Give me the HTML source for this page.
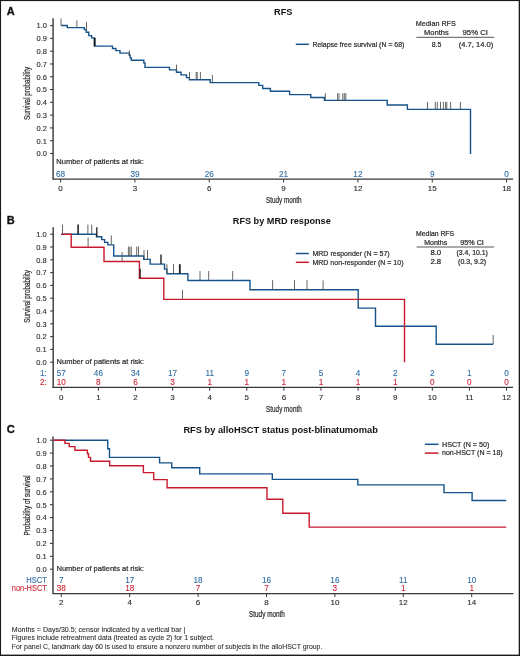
<!DOCTYPE html>
<html><head><meta charset="utf-8"><title>RFS Kaplan-Meier curves</title>
<style>
html,body{margin:0;padding:0;background:#fff;}
body{width:520px;height:656px;overflow:hidden;font-family:"Liberation Sans", sans-serif;}
svg{display:block;will-change:transform;}
svg text{font-family:"Liberation Sans", sans-serif;}
</style></head>
<body>
<svg width="520" height="656" viewBox="0 0 520 656">
<rect x="0" y="0" width="520" height="656" fill="#fff"/>
<text x="6.8" y="14.8" font-size="11" text-anchor="start" fill="#111" font-weight="bold" stroke="#111" stroke-width="0.3">A</text>
<text x="274.0" y="14.5" font-size="9.5" text-anchor="start" fill="#111" font-weight="bold" textLength="18.4" lengthAdjust="spacingAndGlyphs">RFS</text>
<line x1="295.8" y1="44.3" x2="308.9" y2="44.3" stroke="#14548a" stroke-width="1.5"/>
<text x="312.4" y="46.6" font-size="8" text-anchor="start" fill="#2a2a2a" stroke="#2a2a2a" stroke-width="0.22" textLength="92" lengthAdjust="spacingAndGlyphs">Relapse free survival (N = 68)</text>
<text x="415.8" y="25.8" font-size="8" text-anchor="start" fill="#2a2a2a" stroke="#2a2a2a" stroke-width="0.22" textLength="40" lengthAdjust="spacingAndGlyphs">Median RFS</text>
<text x="424.0" y="35.0" font-size="8" text-anchor="start" fill="#2a2a2a" stroke="#2a2a2a" stroke-width="0.22" textLength="24.7" lengthAdjust="spacingAndGlyphs">Months</text>
<text x="462.5" y="35.0" font-size="8" text-anchor="start" fill="#2a2a2a" stroke="#2a2a2a" stroke-width="0.22" textLength="25.5" lengthAdjust="spacingAndGlyphs">95% CI</text>
<line x1="416.3" y1="37.3" x2="494.2" y2="37.3" stroke="#444" stroke-width="0.9"/>
<text x="431.7" y="46.5" font-size="8" text-anchor="start" fill="#2a2a2a" stroke="#2a2a2a" stroke-width="0.22" textLength="9.6" lengthAdjust="spacingAndGlyphs">8.5</text>
<text x="458.7" y="46.5" font-size="8" text-anchor="start" fill="#2a2a2a" stroke="#2a2a2a" stroke-width="0.22" textLength="34.6" lengthAdjust="spacingAndGlyphs">(4.7, 14.0)</text>
<line x1="53.1" y1="18.2" x2="53.1" y2="179" stroke="#383838" stroke-width="1.4"/>
<line x1="50.1" y1="25.6" x2="53.1" y2="25.6" stroke="#383838" stroke-width="1.1"/>
<text x="47" y="28.450000000000003" font-size="8.0" text-anchor="end" fill="#2a2a2a" stroke="#2a2a2a" stroke-width="0.12" textLength="10.4" lengthAdjust="spacingAndGlyphs">1.0</text>
<line x1="50.1" y1="38.39" x2="53.1" y2="38.39" stroke="#383838" stroke-width="1.1"/>
<text x="47" y="41.24" font-size="8.0" text-anchor="end" fill="#2a2a2a" stroke="#2a2a2a" stroke-width="0.12" textLength="10.4" lengthAdjust="spacingAndGlyphs">0.9</text>
<line x1="50.1" y1="51.18" x2="53.1" y2="51.18" stroke="#383838" stroke-width="1.1"/>
<text x="47" y="54.03" font-size="8.0" text-anchor="end" fill="#2a2a2a" stroke="#2a2a2a" stroke-width="0.12" textLength="10.4" lengthAdjust="spacingAndGlyphs">0.8</text>
<line x1="50.1" y1="63.97" x2="53.1" y2="63.97" stroke="#383838" stroke-width="1.1"/>
<text x="47" y="66.82" font-size="8.0" text-anchor="end" fill="#2a2a2a" stroke="#2a2a2a" stroke-width="0.12" textLength="10.4" lengthAdjust="spacingAndGlyphs">0.7</text>
<line x1="50.1" y1="76.75999999999999" x2="53.1" y2="76.75999999999999" stroke="#383838" stroke-width="1.1"/>
<text x="47" y="79.60999999999999" font-size="8.0" text-anchor="end" fill="#2a2a2a" stroke="#2a2a2a" stroke-width="0.12" textLength="10.4" lengthAdjust="spacingAndGlyphs">0.6</text>
<line x1="50.1" y1="89.55" x2="53.1" y2="89.55" stroke="#383838" stroke-width="1.1"/>
<text x="47" y="92.39999999999999" font-size="8.0" text-anchor="end" fill="#2a2a2a" stroke="#2a2a2a" stroke-width="0.12" textLength="10.4" lengthAdjust="spacingAndGlyphs">0.5</text>
<line x1="50.1" y1="102.34" x2="53.1" y2="102.34" stroke="#383838" stroke-width="1.1"/>
<text x="47" y="105.19" font-size="8.0" text-anchor="end" fill="#2a2a2a" stroke="#2a2a2a" stroke-width="0.12" textLength="10.4" lengthAdjust="spacingAndGlyphs">0.4</text>
<line x1="50.1" y1="115.13" x2="53.1" y2="115.13" stroke="#383838" stroke-width="1.1"/>
<text x="47" y="117.97999999999999" font-size="8.0" text-anchor="end" fill="#2a2a2a" stroke="#2a2a2a" stroke-width="0.12" textLength="10.4" lengthAdjust="spacingAndGlyphs">0.3</text>
<line x1="50.1" y1="127.91999999999999" x2="53.1" y2="127.91999999999999" stroke="#383838" stroke-width="1.1"/>
<text x="47" y="130.76999999999998" font-size="8.0" text-anchor="end" fill="#2a2a2a" stroke="#2a2a2a" stroke-width="0.12" textLength="10.4" lengthAdjust="spacingAndGlyphs">0.2</text>
<line x1="50.1" y1="140.70999999999998" x2="53.1" y2="140.70999999999998" stroke="#383838" stroke-width="1.1"/>
<text x="47" y="143.55999999999997" font-size="8.0" text-anchor="end" fill="#2a2a2a" stroke="#2a2a2a" stroke-width="0.12" textLength="10.4" lengthAdjust="spacingAndGlyphs">0.1</text>
<line x1="50.1" y1="153.5" x2="53.1" y2="153.5" stroke="#383838" stroke-width="1.1"/>
<text x="47" y="156.35" font-size="8.0" text-anchor="end" fill="#2a2a2a" stroke="#2a2a2a" stroke-width="0.12" textLength="10.4" lengthAdjust="spacingAndGlyphs">0.0</text>
<text x="0" y="0" font-size="8.8" text-anchor="middle" fill="#2a2a2a" stroke="#2a2a2a" stroke-width="0.22" textLength="53.3" lengthAdjust="spacingAndGlyphs" transform="translate(29.9,93.4) rotate(-90)">Survival probability</text>
<line x1="52.4" y1="179.2" x2="513.1" y2="179.2" stroke="#383838" stroke-width="1.3"/>
<line x1="60.6" y1="179.2" x2="60.6" y2="182.5" stroke="#383838" stroke-width="1.0"/>
<text x="60.6" y="190.6" font-size="8.0" text-anchor="middle" fill="#2a2a2a" stroke="#2a2a2a" stroke-width="0.12">0</text>
<line x1="134.93" y1="179.2" x2="134.93" y2="182.5" stroke="#383838" stroke-width="1.0"/>
<text x="134.93" y="190.6" font-size="8.0" text-anchor="middle" fill="#2a2a2a" stroke="#2a2a2a" stroke-width="0.12">3</text>
<line x1="209.26" y1="179.2" x2="209.26" y2="182.5" stroke="#383838" stroke-width="1.0"/>
<text x="209.26" y="190.6" font-size="8.0" text-anchor="middle" fill="#2a2a2a" stroke="#2a2a2a" stroke-width="0.12">6</text>
<line x1="283.59000000000003" y1="179.2" x2="283.59000000000003" y2="182.5" stroke="#383838" stroke-width="1.0"/>
<text x="283.59000000000003" y="190.6" font-size="8.0" text-anchor="middle" fill="#2a2a2a" stroke="#2a2a2a" stroke-width="0.12">9</text>
<line x1="357.92" y1="179.2" x2="357.92" y2="182.5" stroke="#383838" stroke-width="1.0"/>
<text x="357.92" y="190.6" font-size="8.0" text-anchor="middle" fill="#2a2a2a" stroke="#2a2a2a" stroke-width="0.12">12</text>
<line x1="432.25" y1="179.2" x2="432.25" y2="182.5" stroke="#383838" stroke-width="1.0"/>
<text x="432.25" y="190.6" font-size="8.0" text-anchor="middle" fill="#2a2a2a" stroke="#2a2a2a" stroke-width="0.12">15</text>
<line x1="506.58000000000004" y1="179.2" x2="506.58000000000004" y2="182.5" stroke="#383838" stroke-width="1.0"/>
<text x="506.58000000000004" y="190.6" font-size="8.0" text-anchor="middle" fill="#2a2a2a" stroke="#2a2a2a" stroke-width="0.12">18</text>
<text x="266.0" y="203.0" font-size="8.8" text-anchor="start" fill="#2a2a2a" stroke="#2a2a2a" stroke-width="0.22" textLength="35.6" lengthAdjust="spacingAndGlyphs">Study month</text>
<text x="56.3" y="164.0" font-size="8" text-anchor="start" fill="#2a2a2a" stroke="#2a2a2a" stroke-width="0.22" textLength="87.6" lengthAdjust="spacingAndGlyphs">Number of patients at risk:</text>
<text x="60.6" y="176.6" font-size="8.2" text-anchor="middle" fill="#2f6ba3" stroke="#2f6ba3" stroke-width="0.1">68</text>
<text x="134.93" y="176.6" font-size="8.2" text-anchor="middle" fill="#2f6ba3" stroke="#2f6ba3" stroke-width="0.1">39</text>
<text x="209.26" y="176.6" font-size="8.2" text-anchor="middle" fill="#2f6ba3" stroke="#2f6ba3" stroke-width="0.1">26</text>
<text x="283.59000000000003" y="176.6" font-size="8.2" text-anchor="middle" fill="#2f6ba3" stroke="#2f6ba3" stroke-width="0.1">21</text>
<text x="357.92" y="176.6" font-size="8.2" text-anchor="middle" fill="#2f6ba3" stroke="#2f6ba3" stroke-width="0.1">12</text>
<text x="432.25" y="176.6" font-size="8.2" text-anchor="middle" fill="#2f6ba3" stroke="#2f6ba3" stroke-width="0.1">9</text>
<text x="506.58000000000004" y="176.6" font-size="8.2" text-anchor="middle" fill="#2f6ba3" stroke="#2f6ba3" stroke-width="0.1">0</text>
<path d="M61.0,25.5 L67.3,25.5 L67.3,27.6 L84.3,27.6 L84.3,29.6 L86.3,29.6 L86.3,32.2 L88.8,32.2 L88.8,35.6 L91.6,35.6 L91.6,37.9 L94.6,37.9 L94.6,46.1 L112.5,46.1 L112.5,48.5 L115.9,48.5 L115.9,50.6 L120.0,50.6 L120.0,53.1 L129.3,53.1 L129.3,55.3 L130.2,55.3 L130.2,57.9 L131.3,57.9 L131.3,60.2 L143.8,60.2 L143.8,62.9 L145.0,62.9 L145.0,67.4 L169.5,67.4 L169.5,69.9 L176.5,69.9 L176.5,72.3 L181.0,72.3 L181.0,74.9 L186.5,74.9 L186.5,77.6 L189.4,77.6 L189.4,79.8 L210.2,79.8 L210.2,82.6 L258.8,82.6 L258.8,85.4 L262.7,85.4 L262.7,88.5 L270.4,88.5 L270.4,91.3 L289.6,91.3 L289.6,94.6 L310.8,94.6 L310.8,97.5 L324.4,97.5 L324.4,100.4 L387.2,100.4 L387.2,105.0 L407.4,105.0 L407.4,109.4 L470.5,109.4 L470.5,154.0" fill="none" stroke="#14548a" stroke-width="1.4" stroke-linejoin="miter" stroke-linecap="butt"/>
<line x1="61.0" y1="18.4" x2="61.0" y2="25.5" stroke="#555555" stroke-width="0.9"/>
<line x1="76.9" y1="20.3" x2="76.9" y2="27.6" stroke="#555555" stroke-width="0.9"/>
<line x1="86.5" y1="21.9" x2="86.5" y2="29.6" stroke="#555555" stroke-width="0.9"/>
<line x1="94.6" y1="38.0" x2="94.6" y2="46.1" stroke="#111" stroke-width="1.8"/>
<line x1="129.3" y1="50.2" x2="129.3" y2="55.3" stroke="#555555" stroke-width="0.9"/>
<line x1="176.5" y1="64.6" x2="176.5" y2="69.9" stroke="#555555" stroke-width="0.9"/>
<line x1="189.5" y1="72.0" x2="189.5" y2="79.8" stroke="#555555" stroke-width="0.9"/>
<line x1="196.2" y1="72.0" x2="196.2" y2="79.8" stroke="#555555" stroke-width="0.9"/>
<line x1="197.2" y1="72.0" x2="197.2" y2="79.8" stroke="#555555" stroke-width="0.9"/>
<line x1="200.4" y1="72.0" x2="200.4" y2="79.8" stroke="#555555" stroke-width="0.9"/>
<line x1="212.4" y1="74.9" x2="212.4" y2="82.6" stroke="#555555" stroke-width="0.9"/>
<line x1="325.3" y1="93.2" x2="325.3" y2="100.4" stroke="#555555" stroke-width="0.9"/>
<line x1="337.6" y1="93.2" x2="337.6" y2="100.4" stroke="#555555" stroke-width="0.9"/>
<line x1="339.0" y1="93.2" x2="339.0" y2="100.4" stroke="#555555" stroke-width="0.9"/>
<line x1="342.8" y1="93.2" x2="342.8" y2="100.4" stroke="#555555" stroke-width="0.9"/>
<line x1="344.3" y1="93.2" x2="344.3" y2="100.4" stroke="#555555" stroke-width="0.9"/>
<line x1="345.8" y1="93.2" x2="345.8" y2="100.4" stroke="#555555" stroke-width="0.9"/>
<line x1="427.5" y1="101.9" x2="427.5" y2="109.4" stroke="#555555" stroke-width="0.9"/>
<line x1="435.3" y1="101.9" x2="435.3" y2="109.4" stroke="#555555" stroke-width="0.9"/>
<line x1="437.3" y1="101.9" x2="437.3" y2="109.4" stroke="#555555" stroke-width="0.9"/>
<line x1="440.5" y1="101.9" x2="440.5" y2="109.4" stroke="#555555" stroke-width="0.9"/>
<line x1="443.4" y1="101.9" x2="443.4" y2="109.4" stroke="#555555" stroke-width="0.9"/>
<line x1="445.6" y1="101.9" x2="445.6" y2="109.4" stroke="#555555" stroke-width="0.9"/>
<line x1="446.8" y1="101.9" x2="446.8" y2="109.4" stroke="#555555" stroke-width="0.9"/>
<line x1="450.6" y1="101.9" x2="450.6" y2="109.4" stroke="#555555" stroke-width="0.9"/>
<line x1="460.4" y1="101.9" x2="460.4" y2="109.4" stroke="#555555" stroke-width="0.9"/>
<text x="6.8" y="223.8" font-size="11" text-anchor="start" fill="#111" font-weight="bold" stroke="#111" stroke-width="0.3">B</text>
<text x="232.8" y="224.2" font-size="9.5" text-anchor="start" fill="#111" font-weight="bold" textLength="98" lengthAdjust="spacingAndGlyphs">RFS by MRD response</text>
<line x1="295.8" y1="253.5" x2="308.9" y2="253.5" stroke="#14548a" stroke-width="1.5"/>
<line x1="295.8" y1="262.3" x2="308.9" y2="262.3" stroke="#c8192e" stroke-width="1.5"/>
<text x="312.4" y="256.1" font-size="8" text-anchor="start" fill="#2a2a2a" stroke="#2a2a2a" stroke-width="0.22" textLength="77.3" lengthAdjust="spacingAndGlyphs">MRD responder (N = 57)</text>
<text x="312.4" y="265.0" font-size="8" text-anchor="start" fill="#2a2a2a" stroke="#2a2a2a" stroke-width="0.22" textLength="91.1" lengthAdjust="spacingAndGlyphs">MRD non-responder (N = 10)</text>
<text x="416.1" y="235.7" font-size="7.0" text-anchor="start" fill="#2a2a2a" stroke="#2a2a2a" stroke-width="0.22" textLength="38" lengthAdjust="spacingAndGlyphs">Median RFS</text>
<text x="424.2" y="244.6" font-size="7.0" text-anchor="start" fill="#2a2a2a" stroke="#2a2a2a" stroke-width="0.22" textLength="23" lengthAdjust="spacingAndGlyphs">Months</text>
<text x="460.2" y="244.6" font-size="7.0" text-anchor="start" fill="#2a2a2a" stroke="#2a2a2a" stroke-width="0.22" textLength="23.7" lengthAdjust="spacingAndGlyphs">95% CI</text>
<line x1="416.6" y1="247.0" x2="494.0" y2="247.0" stroke="#444" stroke-width="0.9"/>
<text x="430.4" y="255.0" font-size="7.0" text-anchor="start" fill="#2a2a2a" stroke="#2a2a2a" stroke-width="0.22" textLength="10.8" lengthAdjust="spacingAndGlyphs">8.0</text>
<text x="456.4" y="255.0" font-size="7.0" text-anchor="start" fill="#2a2a2a" stroke="#2a2a2a" stroke-width="0.22" textLength="31.5" lengthAdjust="spacingAndGlyphs">(3.4, 10.1)</text>
<text x="430.4" y="264.0" font-size="7.0" text-anchor="start" fill="#2a2a2a" stroke="#2a2a2a" stroke-width="0.22" textLength="10.8" lengthAdjust="spacingAndGlyphs">2.8</text>
<text x="458.1" y="264.0" font-size="7.0" text-anchor="start" fill="#2a2a2a" stroke="#2a2a2a" stroke-width="0.22" textLength="28.1" lengthAdjust="spacingAndGlyphs">(0.3, 9.2)</text>
<line x1="53.2" y1="227.2" x2="53.2" y2="387.2" stroke="#383838" stroke-width="1.4"/>
<line x1="50.2" y1="234.2" x2="53.2" y2="234.2" stroke="#383838" stroke-width="1.1"/>
<text x="46.6" y="237.04999999999998" font-size="8.0" text-anchor="end" fill="#2a2a2a" stroke="#2a2a2a" stroke-width="0.12" textLength="10.4" lengthAdjust="spacingAndGlyphs">1.0</text>
<line x1="50.2" y1="247.0" x2="53.2" y2="247.0" stroke="#383838" stroke-width="1.1"/>
<text x="46.6" y="249.85" font-size="8.0" text-anchor="end" fill="#2a2a2a" stroke="#2a2a2a" stroke-width="0.12" textLength="10.4" lengthAdjust="spacingAndGlyphs">0.9</text>
<line x1="50.2" y1="259.8" x2="53.2" y2="259.8" stroke="#383838" stroke-width="1.1"/>
<text x="46.6" y="262.65000000000003" font-size="8.0" text-anchor="end" fill="#2a2a2a" stroke="#2a2a2a" stroke-width="0.12" textLength="10.4" lengthAdjust="spacingAndGlyphs">0.8</text>
<line x1="50.2" y1="272.6" x2="53.2" y2="272.6" stroke="#383838" stroke-width="1.1"/>
<text x="46.6" y="275.45000000000005" font-size="8.0" text-anchor="end" fill="#2a2a2a" stroke="#2a2a2a" stroke-width="0.12" textLength="10.4" lengthAdjust="spacingAndGlyphs">0.7</text>
<line x1="50.2" y1="285.4" x2="53.2" y2="285.4" stroke="#383838" stroke-width="1.1"/>
<text x="46.6" y="288.25" font-size="8.0" text-anchor="end" fill="#2a2a2a" stroke="#2a2a2a" stroke-width="0.12" textLength="10.4" lengthAdjust="spacingAndGlyphs">0.6</text>
<line x1="50.2" y1="298.2" x2="53.2" y2="298.2" stroke="#383838" stroke-width="1.1"/>
<text x="46.6" y="301.05" font-size="8.0" text-anchor="end" fill="#2a2a2a" stroke="#2a2a2a" stroke-width="0.12" textLength="10.4" lengthAdjust="spacingAndGlyphs">0.5</text>
<line x1="50.2" y1="311.0" x2="53.2" y2="311.0" stroke="#383838" stroke-width="1.1"/>
<text x="46.6" y="313.85" font-size="8.0" text-anchor="end" fill="#2a2a2a" stroke="#2a2a2a" stroke-width="0.12" textLength="10.4" lengthAdjust="spacingAndGlyphs">0.4</text>
<line x1="50.2" y1="323.8" x2="53.2" y2="323.8" stroke="#383838" stroke-width="1.1"/>
<text x="46.6" y="326.65000000000003" font-size="8.0" text-anchor="end" fill="#2a2a2a" stroke="#2a2a2a" stroke-width="0.12" textLength="10.4" lengthAdjust="spacingAndGlyphs">0.3</text>
<line x1="50.2" y1="336.6" x2="53.2" y2="336.6" stroke="#383838" stroke-width="1.1"/>
<text x="46.6" y="339.45000000000005" font-size="8.0" text-anchor="end" fill="#2a2a2a" stroke="#2a2a2a" stroke-width="0.12" textLength="10.4" lengthAdjust="spacingAndGlyphs">0.2</text>
<line x1="50.2" y1="349.4" x2="53.2" y2="349.4" stroke="#383838" stroke-width="1.1"/>
<text x="46.6" y="352.25" font-size="8.0" text-anchor="end" fill="#2a2a2a" stroke="#2a2a2a" stroke-width="0.12" textLength="10.4" lengthAdjust="spacingAndGlyphs">0.1</text>
<line x1="50.2" y1="362.2" x2="53.2" y2="362.2" stroke="#383838" stroke-width="1.1"/>
<text x="46.6" y="365.05" font-size="8.0" text-anchor="end" fill="#2a2a2a" stroke="#2a2a2a" stroke-width="0.12" textLength="10.4" lengthAdjust="spacingAndGlyphs">0.0</text>
<text x="0" y="0" font-size="8.8" text-anchor="middle" fill="#2a2a2a" stroke="#2a2a2a" stroke-width="0.22" textLength="52.8" lengthAdjust="spacingAndGlyphs" transform="translate(30.4,296.4) rotate(-90)">Survival probability</text>
<line x1="52.3" y1="387.4" x2="513.1" y2="387.4" stroke="#383838" stroke-width="1.3"/>
<line x1="61.3" y1="387.4" x2="61.3" y2="390.7" stroke="#383838" stroke-width="1.0"/>
<text x="61.3" y="399.6" font-size="8.0" text-anchor="middle" fill="#2a2a2a" stroke="#2a2a2a" stroke-width="0.12">0</text>
<line x1="98.4" y1="387.4" x2="98.4" y2="390.7" stroke="#383838" stroke-width="1.0"/>
<text x="98.4" y="399.6" font-size="8.0" text-anchor="middle" fill="#2a2a2a" stroke="#2a2a2a" stroke-width="0.12">1</text>
<line x1="135.5" y1="387.4" x2="135.5" y2="390.7" stroke="#383838" stroke-width="1.0"/>
<text x="135.5" y="399.6" font-size="8.0" text-anchor="middle" fill="#2a2a2a" stroke="#2a2a2a" stroke-width="0.12">2</text>
<line x1="172.60000000000002" y1="387.4" x2="172.60000000000002" y2="390.7" stroke="#383838" stroke-width="1.0"/>
<text x="172.60000000000002" y="399.6" font-size="8.0" text-anchor="middle" fill="#2a2a2a" stroke="#2a2a2a" stroke-width="0.12">3</text>
<line x1="209.7" y1="387.4" x2="209.7" y2="390.7" stroke="#383838" stroke-width="1.0"/>
<text x="209.7" y="399.6" font-size="8.0" text-anchor="middle" fill="#2a2a2a" stroke="#2a2a2a" stroke-width="0.12">4</text>
<line x1="246.8" y1="387.4" x2="246.8" y2="390.7" stroke="#383838" stroke-width="1.0"/>
<text x="246.8" y="399.6" font-size="8.0" text-anchor="middle" fill="#2a2a2a" stroke="#2a2a2a" stroke-width="0.12">5</text>
<line x1="283.90000000000003" y1="387.4" x2="283.90000000000003" y2="390.7" stroke="#383838" stroke-width="1.0"/>
<text x="283.90000000000003" y="399.6" font-size="8.0" text-anchor="middle" fill="#2a2a2a" stroke="#2a2a2a" stroke-width="0.12">6</text>
<line x1="321.0" y1="387.4" x2="321.0" y2="390.7" stroke="#383838" stroke-width="1.0"/>
<text x="321.0" y="399.6" font-size="8.0" text-anchor="middle" fill="#2a2a2a" stroke="#2a2a2a" stroke-width="0.12">7</text>
<line x1="358.1" y1="387.4" x2="358.1" y2="390.7" stroke="#383838" stroke-width="1.0"/>
<text x="358.1" y="399.6" font-size="8.0" text-anchor="middle" fill="#2a2a2a" stroke="#2a2a2a" stroke-width="0.12">8</text>
<line x1="395.20000000000005" y1="387.4" x2="395.20000000000005" y2="390.7" stroke="#383838" stroke-width="1.0"/>
<text x="395.20000000000005" y="399.6" font-size="8.0" text-anchor="middle" fill="#2a2a2a" stroke="#2a2a2a" stroke-width="0.12">9</text>
<line x1="432.3" y1="387.4" x2="432.3" y2="390.7" stroke="#383838" stroke-width="1.0"/>
<text x="432.3" y="399.6" font-size="8.0" text-anchor="middle" fill="#2a2a2a" stroke="#2a2a2a" stroke-width="0.12">10</text>
<line x1="469.40000000000003" y1="387.4" x2="469.40000000000003" y2="390.7" stroke="#383838" stroke-width="1.0"/>
<text x="469.40000000000003" y="399.6" font-size="8.0" text-anchor="middle" fill="#2a2a2a" stroke="#2a2a2a" stroke-width="0.12">11</text>
<line x1="506.50000000000006" y1="387.4" x2="506.50000000000006" y2="390.7" stroke="#383838" stroke-width="1.0"/>
<text x="506.50000000000006" y="399.6" font-size="8.0" text-anchor="middle" fill="#2a2a2a" stroke="#2a2a2a" stroke-width="0.12">12</text>
<text x="266.1" y="411.5" font-size="8.8" text-anchor="start" fill="#2a2a2a" stroke="#2a2a2a" stroke-width="0.22" textLength="35.6" lengthAdjust="spacingAndGlyphs">Study month</text>
<text x="56.6" y="363.6" font-size="8" text-anchor="start" fill="#2a2a2a" stroke="#2a2a2a" stroke-width="0.22" textLength="87.6" lengthAdjust="spacingAndGlyphs">Number of patients at risk:</text>
<text x="46.9" y="376.0" font-size="8.2" text-anchor="end" fill="#2f6ba3" stroke="#2f6ba3" stroke-width="0.1">1:</text>
<text x="46.9" y="385.4" font-size="8.2" text-anchor="end" fill="#cc2233" stroke="#cc2233" stroke-width="0.1">2:</text>
<text x="61.3" y="376.0" font-size="8.2" text-anchor="middle" fill="#2f6ba3" stroke="#2f6ba3" stroke-width="0.1">57</text>
<text x="98.4" y="376.0" font-size="8.2" text-anchor="middle" fill="#2f6ba3" stroke="#2f6ba3" stroke-width="0.1">46</text>
<text x="135.5" y="376.0" font-size="8.2" text-anchor="middle" fill="#2f6ba3" stroke="#2f6ba3" stroke-width="0.1">34</text>
<text x="172.60000000000002" y="376.0" font-size="8.2" text-anchor="middle" fill="#2f6ba3" stroke="#2f6ba3" stroke-width="0.1">17</text>
<text x="209.7" y="376.0" font-size="8.2" text-anchor="middle" fill="#2f6ba3" stroke="#2f6ba3" stroke-width="0.1">11</text>
<text x="246.8" y="376.0" font-size="8.2" text-anchor="middle" fill="#2f6ba3" stroke="#2f6ba3" stroke-width="0.1">9</text>
<text x="283.90000000000003" y="376.0" font-size="8.2" text-anchor="middle" fill="#2f6ba3" stroke="#2f6ba3" stroke-width="0.1">7</text>
<text x="321.0" y="376.0" font-size="8.2" text-anchor="middle" fill="#2f6ba3" stroke="#2f6ba3" stroke-width="0.1">5</text>
<text x="358.1" y="376.0" font-size="8.2" text-anchor="middle" fill="#2f6ba3" stroke="#2f6ba3" stroke-width="0.1">4</text>
<text x="395.20000000000005" y="376.0" font-size="8.2" text-anchor="middle" fill="#2f6ba3" stroke="#2f6ba3" stroke-width="0.1">2</text>
<text x="432.3" y="376.0" font-size="8.2" text-anchor="middle" fill="#2f6ba3" stroke="#2f6ba3" stroke-width="0.1">2</text>
<text x="469.40000000000003" y="376.0" font-size="8.2" text-anchor="middle" fill="#2f6ba3" stroke="#2f6ba3" stroke-width="0.1">1</text>
<text x="506.50000000000006" y="376.0" font-size="8.2" text-anchor="middle" fill="#2f6ba3" stroke="#2f6ba3" stroke-width="0.1">0</text>
<text x="61.3" y="385.4" font-size="8.2" text-anchor="middle" fill="#cc2233" stroke="#cc2233" stroke-width="0.1">10</text>
<text x="98.4" y="385.4" font-size="8.2" text-anchor="middle" fill="#cc2233" stroke="#cc2233" stroke-width="0.1">8</text>
<text x="135.5" y="385.4" font-size="8.2" text-anchor="middle" fill="#cc2233" stroke="#cc2233" stroke-width="0.1">6</text>
<text x="172.60000000000002" y="385.4" font-size="8.2" text-anchor="middle" fill="#cc2233" stroke="#cc2233" stroke-width="0.1">3</text>
<text x="209.7" y="385.4" font-size="8.2" text-anchor="middle" fill="#cc2233" stroke="#cc2233" stroke-width="0.1">1</text>
<text x="246.8" y="385.4" font-size="8.2" text-anchor="middle" fill="#cc2233" stroke="#cc2233" stroke-width="0.1">1</text>
<text x="283.90000000000003" y="385.4" font-size="8.2" text-anchor="middle" fill="#cc2233" stroke="#cc2233" stroke-width="0.1">1</text>
<text x="321.0" y="385.4" font-size="8.2" text-anchor="middle" fill="#cc2233" stroke="#cc2233" stroke-width="0.1">1</text>
<text x="358.1" y="385.4" font-size="8.2" text-anchor="middle" fill="#cc2233" stroke="#cc2233" stroke-width="0.1">1</text>
<text x="395.20000000000005" y="385.4" font-size="8.2" text-anchor="middle" fill="#cc2233" stroke="#cc2233" stroke-width="0.1">1</text>
<text x="432.3" y="385.4" font-size="8.2" text-anchor="middle" fill="#cc2233" stroke="#cc2233" stroke-width="0.1">0</text>
<text x="469.40000000000003" y="385.4" font-size="8.2" text-anchor="middle" fill="#cc2233" stroke="#cc2233" stroke-width="0.1">0</text>
<text x="506.50000000000006" y="385.4" font-size="8.2" text-anchor="middle" fill="#cc2233" stroke="#cc2233" stroke-width="0.1">0</text>
<path d="M61.3,234.2 L96.5,234.2 L96.5,236.7 L101.7,236.7 L101.7,239.6 L104.6,239.6 L104.6,242.4 L107.9,242.4 L107.9,244.9 L113.7,244.9 L113.7,256.0 L143.7,256.0 L143.7,259.4 L150.2,259.4 L150.2,264.1 L164.5,264.1 L164.5,269.1 L166.9,269.1 L166.9,273.8 L187.9,273.8 L187.9,280.5 L250.0,280.5 L250.0,289.8 L358.2,289.8 L358.2,308.1 L375.5,308.1 L375.5,326.2 L436.2,326.2 L436.2,344.3 L493.2,344.3" fill="none" stroke="#14548a" stroke-width="1.4" stroke-linejoin="miter" stroke-linecap="butt"/>
<path d="M61.3,234.2 L71.2,234.2 L71.2,247.2 L104.0,247.2 L104.0,261.5 L139.4,261.5 L139.4,278.2 L163.8,278.2 L163.8,299.4 L404.5,299.4 L404.5,362.2" fill="none" stroke="#c8192e" stroke-width="1.4" stroke-linejoin="miter" stroke-linecap="butt"/>
<line x1="62.5" y1="224.6" x2="62.5" y2="234.2" stroke="#555555" stroke-width="0.9"/>
<line x1="78.1" y1="224.6" x2="78.1" y2="234.2" stroke="#222" stroke-width="1.6"/>
<line x1="87.9" y1="224.6" x2="87.9" y2="234.2" stroke="#555555" stroke-width="0.9"/>
<line x1="91.7" y1="224.6" x2="91.7" y2="234.2" stroke="#555555" stroke-width="0.9"/>
<line x1="96.8" y1="227.2" x2="96.8" y2="236.7" stroke="#222" stroke-width="1.3"/>
<line x1="111.3" y1="235.4" x2="111.3" y2="244.9" stroke="#555555" stroke-width="0.9"/>
<line x1="88.1" y1="237.5" x2="88.1" y2="247.2" stroke="#555555" stroke-width="0.9"/>
<line x1="122.1" y1="252.0" x2="122.1" y2="261.5" stroke="#555555" stroke-width="0.9"/>
<line x1="128.4" y1="246.6" x2="128.4" y2="256.0" stroke="#555555" stroke-width="0.9"/>
<line x1="129.8" y1="246.6" x2="129.8" y2="256.0" stroke="#555555" stroke-width="0.9"/>
<line x1="131.3" y1="246.6" x2="131.3" y2="256.0" stroke="#555555" stroke-width="0.9"/>
<line x1="136.7" y1="246.6" x2="136.7" y2="256.0" stroke="#555555" stroke-width="0.9"/>
<line x1="138.5" y1="246.6" x2="138.5" y2="256.0" stroke="#555555" stroke-width="0.9"/>
<line x1="144.0" y1="250.0" x2="144.0" y2="259.4" stroke="#555555" stroke-width="0.9"/>
<line x1="147.5" y1="250.0" x2="147.5" y2="259.4" stroke="#555555" stroke-width="0.9"/>
<line x1="140.2" y1="268.8" x2="140.2" y2="278.2" stroke="#222" stroke-width="1.2"/>
<line x1="161.0" y1="254.4" x2="161.0" y2="264.1" stroke="#222" stroke-width="1.4"/>
<line x1="166.9" y1="264.2" x2="166.9" y2="273.8" stroke="#555555" stroke-width="0.9"/>
<line x1="173.5" y1="264.2" x2="173.5" y2="273.8" stroke="#555555" stroke-width="0.9"/>
<line x1="179.8" y1="264.2" x2="179.8" y2="273.8" stroke="#222" stroke-width="1.8"/>
<line x1="182.5" y1="289.8" x2="182.5" y2="299.4" stroke="#555555" stroke-width="0.9"/>
<line x1="200.0" y1="271.0" x2="200.0" y2="280.5" stroke="#555555" stroke-width="0.9"/>
<line x1="208.7" y1="271.0" x2="208.7" y2="280.5" stroke="#555555" stroke-width="0.9"/>
<line x1="232.7" y1="271.0" x2="232.7" y2="280.5" stroke="#555555" stroke-width="0.9"/>
<line x1="272.6" y1="280.2" x2="272.6" y2="289.8" stroke="#555555" stroke-width="0.9"/>
<line x1="294.5" y1="280.2" x2="294.5" y2="289.8" stroke="#555555" stroke-width="0.9"/>
<line x1="307.0" y1="280.2" x2="307.0" y2="289.8" stroke="#555555" stroke-width="0.9"/>
<line x1="323.1" y1="280.4" x2="323.1" y2="290.0" stroke="#555555" stroke-width="0.9"/>
<line x1="493.2" y1="335.0" x2="493.2" y2="344.3" stroke="#555555" stroke-width="0.9"/>
<text x="6.8" y="432.7" font-size="11.2" text-anchor="start" fill="#111" font-weight="bold" stroke="#111" stroke-width="0.3">C</text>
<text x="183.4" y="432.6" font-size="9.5" text-anchor="start" fill="#111" font-weight="bold" textLength="194.5" lengthAdjust="spacingAndGlyphs">RFS by alloHSCT status post-blinatumomab</text>
<line x1="424.9" y1="444.3" x2="438.5" y2="444.3" stroke="#14548a" stroke-width="1.5"/>
<line x1="424.9" y1="453.1" x2="438.5" y2="453.1" stroke="#c8192e" stroke-width="1.5"/>
<text x="442.0" y="446.6" font-size="8" text-anchor="start" fill="#2a2a2a" stroke="#2a2a2a" stroke-width="0.22" textLength="47.3" lengthAdjust="spacingAndGlyphs">HSCT (N = 50)</text>
<text x="442.0" y="455.4" font-size="8" text-anchor="start" fill="#2a2a2a" stroke="#2a2a2a" stroke-width="0.22" textLength="60.7" lengthAdjust="spacingAndGlyphs">non-HSCT (N = 18)</text>
<line x1="53.0" y1="436.5" x2="53.0" y2="593.4" stroke="#383838" stroke-width="1.4"/>
<line x1="50.0" y1="440.2" x2="53.0" y2="440.2" stroke="#383838" stroke-width="1.1"/>
<text x="46.6" y="443.05" font-size="8.0" text-anchor="end" fill="#2a2a2a" stroke="#2a2a2a" stroke-width="0.12" textLength="10.4" lengthAdjust="spacingAndGlyphs">1.0</text>
<line x1="50.0" y1="453.09999999999997" x2="53.0" y2="453.09999999999997" stroke="#383838" stroke-width="1.1"/>
<text x="46.6" y="455.95" font-size="8.0" text-anchor="end" fill="#2a2a2a" stroke="#2a2a2a" stroke-width="0.12" textLength="10.4" lengthAdjust="spacingAndGlyphs">0.9</text>
<line x1="50.0" y1="466.0" x2="53.0" y2="466.0" stroke="#383838" stroke-width="1.1"/>
<text x="46.6" y="468.85" font-size="8.0" text-anchor="end" fill="#2a2a2a" stroke="#2a2a2a" stroke-width="0.12" textLength="10.4" lengthAdjust="spacingAndGlyphs">0.8</text>
<line x1="50.0" y1="478.9" x2="53.0" y2="478.9" stroke="#383838" stroke-width="1.1"/>
<text x="46.6" y="481.75" font-size="8.0" text-anchor="end" fill="#2a2a2a" stroke="#2a2a2a" stroke-width="0.12" textLength="10.4" lengthAdjust="spacingAndGlyphs">0.7</text>
<line x1="50.0" y1="491.8" x2="53.0" y2="491.8" stroke="#383838" stroke-width="1.1"/>
<text x="46.6" y="494.65000000000003" font-size="8.0" text-anchor="end" fill="#2a2a2a" stroke="#2a2a2a" stroke-width="0.12" textLength="10.4" lengthAdjust="spacingAndGlyphs">0.6</text>
<line x1="50.0" y1="504.7" x2="53.0" y2="504.7" stroke="#383838" stroke-width="1.1"/>
<text x="46.6" y="507.55" font-size="8.0" text-anchor="end" fill="#2a2a2a" stroke="#2a2a2a" stroke-width="0.12" textLength="10.4" lengthAdjust="spacingAndGlyphs">0.5</text>
<line x1="50.0" y1="517.6" x2="53.0" y2="517.6" stroke="#383838" stroke-width="1.1"/>
<text x="46.6" y="520.45" font-size="8.0" text-anchor="end" fill="#2a2a2a" stroke="#2a2a2a" stroke-width="0.12" textLength="10.4" lengthAdjust="spacingAndGlyphs">0.4</text>
<line x1="50.0" y1="530.5" x2="53.0" y2="530.5" stroke="#383838" stroke-width="1.1"/>
<text x="46.6" y="533.35" font-size="8.0" text-anchor="end" fill="#2a2a2a" stroke="#2a2a2a" stroke-width="0.12" textLength="10.4" lengthAdjust="spacingAndGlyphs">0.3</text>
<line x1="50.0" y1="543.4" x2="53.0" y2="543.4" stroke="#383838" stroke-width="1.1"/>
<text x="46.6" y="546.25" font-size="8.0" text-anchor="end" fill="#2a2a2a" stroke="#2a2a2a" stroke-width="0.12" textLength="10.4" lengthAdjust="spacingAndGlyphs">0.2</text>
<line x1="50.0" y1="556.3" x2="53.0" y2="556.3" stroke="#383838" stroke-width="1.1"/>
<text x="46.6" y="559.15" font-size="8.0" text-anchor="end" fill="#2a2a2a" stroke="#2a2a2a" stroke-width="0.12" textLength="10.4" lengthAdjust="spacingAndGlyphs">0.1</text>
<line x1="50.0" y1="569.2" x2="53.0" y2="569.2" stroke="#383838" stroke-width="1.1"/>
<text x="46.6" y="572.0500000000001" font-size="8.0" text-anchor="end" fill="#2a2a2a" stroke="#2a2a2a" stroke-width="0.12" textLength="10.4" lengthAdjust="spacingAndGlyphs">0.0</text>
<text x="0" y="0" font-size="8.8" text-anchor="middle" fill="#2a2a2a" stroke="#2a2a2a" stroke-width="0.22" textLength="60.3" lengthAdjust="spacingAndGlyphs" transform="translate(30.2,505.4) rotate(-90)">Probability of survival</text>
<line x1="52.5" y1="593.7" x2="513.5" y2="593.7" stroke="#383838" stroke-width="1.3"/>
<line x1="61.3" y1="593.7" x2="61.3" y2="597.0" stroke="#383838" stroke-width="1.0"/>
<text x="61.3" y="604.8" font-size="8.0" text-anchor="middle" fill="#2a2a2a" stroke="#2a2a2a" stroke-width="0.12">2</text>
<line x1="129.7" y1="593.7" x2="129.7" y2="597.0" stroke="#383838" stroke-width="1.0"/>
<text x="129.7" y="604.8" font-size="8.0" text-anchor="middle" fill="#2a2a2a" stroke="#2a2a2a" stroke-width="0.12">4</text>
<line x1="198.10000000000002" y1="593.7" x2="198.10000000000002" y2="597.0" stroke="#383838" stroke-width="1.0"/>
<text x="198.10000000000002" y="604.8" font-size="8.0" text-anchor="middle" fill="#2a2a2a" stroke="#2a2a2a" stroke-width="0.12">6</text>
<line x1="266.5" y1="593.7" x2="266.5" y2="597.0" stroke="#383838" stroke-width="1.0"/>
<text x="266.5" y="604.8" font-size="8.0" text-anchor="middle" fill="#2a2a2a" stroke="#2a2a2a" stroke-width="0.12">8</text>
<line x1="334.90000000000003" y1="593.7" x2="334.90000000000003" y2="597.0" stroke="#383838" stroke-width="1.0"/>
<text x="334.90000000000003" y="604.8" font-size="8.0" text-anchor="middle" fill="#2a2a2a" stroke="#2a2a2a" stroke-width="0.12">10</text>
<line x1="403.3" y1="593.7" x2="403.3" y2="597.0" stroke="#383838" stroke-width="1.0"/>
<text x="403.3" y="604.8" font-size="8.0" text-anchor="middle" fill="#2a2a2a" stroke="#2a2a2a" stroke-width="0.12">12</text>
<line x1="471.70000000000005" y1="593.7" x2="471.70000000000005" y2="597.0" stroke="#383838" stroke-width="1.0"/>
<text x="471.70000000000005" y="604.8" font-size="8.0" text-anchor="middle" fill="#2a2a2a" stroke="#2a2a2a" stroke-width="0.12">14</text>
<text x="249.0" y="617.0" font-size="8.8" text-anchor="start" fill="#2a2a2a" stroke="#2a2a2a" stroke-width="0.22" textLength="35.9" lengthAdjust="spacingAndGlyphs">Study month</text>
<text x="56.5" y="571.2" font-size="8" text-anchor="start" fill="#2a2a2a" stroke="#2a2a2a" stroke-width="0.22" textLength="87.6" lengthAdjust="spacingAndGlyphs">Number of patients at risk:</text>
<text x="46.8" y="582.6" font-size="8.2" text-anchor="end" fill="#2f6ba3" stroke="#2f6ba3" stroke-width="0.1" textLength="20.6" lengthAdjust="spacingAndGlyphs">HSCT</text>
<text x="46.8" y="590.9" font-size="8.2" text-anchor="end" fill="#cc2233" stroke="#cc2233" stroke-width="0.1" textLength="35.0" lengthAdjust="spacingAndGlyphs">non-HSCT</text>
<text x="61.3" y="582.6" font-size="8.2" text-anchor="middle" fill="#2f6ba3" stroke="#2f6ba3" stroke-width="0.1">7</text>
<text x="129.7" y="582.6" font-size="8.2" text-anchor="middle" fill="#2f6ba3" stroke="#2f6ba3" stroke-width="0.1">17</text>
<text x="198.10000000000002" y="582.6" font-size="8.2" text-anchor="middle" fill="#2f6ba3" stroke="#2f6ba3" stroke-width="0.1">18</text>
<text x="266.5" y="582.6" font-size="8.2" text-anchor="middle" fill="#2f6ba3" stroke="#2f6ba3" stroke-width="0.1">16</text>
<text x="334.90000000000003" y="582.6" font-size="8.2" text-anchor="middle" fill="#2f6ba3" stroke="#2f6ba3" stroke-width="0.1">16</text>
<text x="403.3" y="582.6" font-size="8.2" text-anchor="middle" fill="#2f6ba3" stroke="#2f6ba3" stroke-width="0.1">11</text>
<text x="471.70000000000005" y="582.6" font-size="8.2" text-anchor="middle" fill="#2f6ba3" stroke="#2f6ba3" stroke-width="0.1">10</text>
<text x="61.3" y="590.9" font-size="8.2" text-anchor="middle" fill="#cc2233" stroke="#cc2233" stroke-width="0.1">38</text>
<text x="129.7" y="590.9" font-size="8.2" text-anchor="middle" fill="#cc2233" stroke="#cc2233" stroke-width="0.1">18</text>
<text x="198.10000000000002" y="590.9" font-size="8.2" text-anchor="middle" fill="#cc2233" stroke="#cc2233" stroke-width="0.1">7</text>
<text x="266.5" y="590.9" font-size="8.2" text-anchor="middle" fill="#cc2233" stroke="#cc2233" stroke-width="0.1">7</text>
<text x="334.90000000000003" y="590.9" font-size="8.2" text-anchor="middle" fill="#cc2233" stroke="#cc2233" stroke-width="0.1">3</text>
<text x="403.3" y="590.9" font-size="8.2" text-anchor="middle" fill="#cc2233" stroke="#cc2233" stroke-width="0.1">1</text>
<text x="471.70000000000005" y="590.9" font-size="8.2" text-anchor="middle" fill="#cc2233" stroke="#cc2233" stroke-width="0.1">1</text>
<path d="M53.8,440.3 L107.7,440.3 L107.7,448.8 L109.5,448.8 L109.5,457.4 L159.6,457.4 L159.6,462.9 L171.7,462.9 L171.7,467.8 L199.7,467.8 L199.7,473.9 L272.3,473.9 L272.3,479.4 L357.8,479.4 L357.8,484.9 L444.0,484.9 L444.0,492.6 L472.1,492.6 L472.1,500.5 L506.2,500.5" fill="none" stroke="#14548a" stroke-width="1.4" stroke-linejoin="miter" stroke-linecap="butt"/>
<path d="M53.8,440.3 L64.9,440.3 L64.9,443.4 L69.2,443.4 L69.2,446.6 L74.9,446.6 L74.9,450.3 L87.4,450.3 L87.4,453.8 L88.5,453.8 L88.5,457.4 L90.5,457.4 L90.5,461.2 L109.7,461.2 L109.7,465.8 L143.4,465.8 L143.4,472.6 L153.7,472.6 L153.7,479.6 L167.1,479.6 L167.1,487.8 L267.0,487.8 L267.0,499.3 L282.8,499.3 L282.8,513.2 L309.2,513.2 L309.2,527.1 L506.2,527.1" fill="none" stroke="#c8192e" stroke-width="1.4" stroke-linejoin="miter" stroke-linecap="butt"/>
<text x="11.8" y="632.2" font-size="7.2" text-anchor="start" fill="#2a2a2a" stroke="#2a2a2a" stroke-width="0.08" textLength="173.5" lengthAdjust="spacingAndGlyphs">Months = Days/30.5; censor indicated by a vertical bar |</text>
<text x="11.8" y="640.4" font-size="7.2" text-anchor="start" fill="#2a2a2a" stroke="#2a2a2a" stroke-width="0.08" textLength="202.2" lengthAdjust="spacingAndGlyphs">Figures include retreatment data (treated as cycle 2) for 1 subject.</text>
<text x="11.8" y="648.6" font-size="7.2" text-anchor="start" fill="#2a2a2a" stroke="#2a2a2a" stroke-width="0.08" textLength="310.6" lengthAdjust="spacingAndGlyphs">For panel C, landmark day 60 is used to ensure a nonzero number of subjects in the alloHSCT group.</text>
<rect x="0" y="0" width="520" height="1.1" fill="#1a1a1a"/>
<rect x="0" y="0" width="1.05" height="656" fill="#1a1a1a"/>
<rect x="518.7" y="0" width="1.3" height="656" fill="#1a1a1a"/>
<rect x="0" y="654.6" width="520" height="1.4" fill="#1a1a1a"/>
</svg>
</body></html>
